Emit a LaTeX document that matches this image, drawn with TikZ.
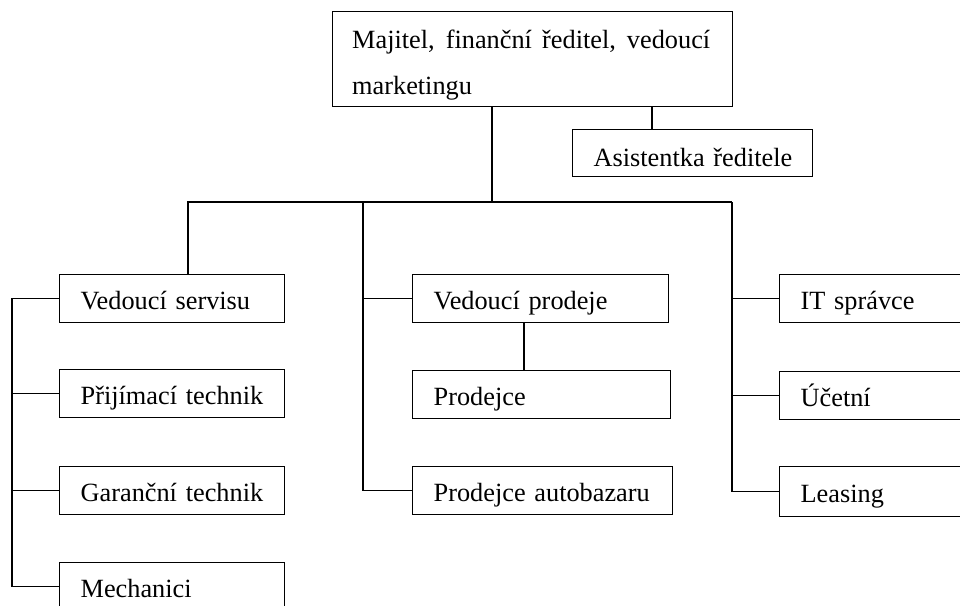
\documentclass[tikz,border=0pt]{standalone}
\usepackage{fontspec}
\setmainfont{Liberation Serif}
\begin{document}
\begin{tikzpicture}[x=1pt,y=-1pt,
  bx/.style={draw, line width=1.3pt, anchor=north west, inner xsep=21pt, inner ysep=0pt,
    text height=22pt, text depth=0pt, align=left, minimum height=48pt},
  ln/.style={line width=1.3pt},
  every node/.style={font=\fontsize{26.3}{30}\selectfont}]
\useasboundingbox (0,0) rectangle (960,605);
\clip (0,0) rectangle (960,605);
% top box
\node[draw, line width=1.3pt, anchor=north west, minimum width=400pt, minimum height=95pt, inner sep=0pt] (top) at (332,11) {};
\node[anchor=base west, inner sep=0pt] (t1) at (352,48) {\makebox[358pt][s]{Majitel, finanční ředitel, vedoucí}};
\node[anchor=base west, inner sep=0pt] (t2) at (352,94) {marketingu};
\node[bx, text width=198pt, minimum height=47pt, text height=26pt] (asst) at (572,129) {\mbox{Asistentka ředitele}};
% left column
\node[bx, text width=183pt] (vs) at (59,274) {Vedoucí servisu};
\node[bx, text width=183pt] (pt) at (59,369) {Přijímací technik};
\node[bx, text width=183pt] (gt) at (59,466) {Garanční technik};
\node[bx, text width=183pt] (mech) at (59,562) {Mechanici};
% middle column
\node[bx, text width=214pt] (vp) at (412,274) {Vedoucí prodeje};
\node[bx, text width=216pt] (pr) at (412,370) {Prodejce};
\node[bx, text width=218pt] (pa) at (412,466) {\mbox{Prodejce autobazaru}};
% right column
\node[bx, text width=240pt] (it) at (779,274) {IT správce};
\node[bx, text width=240pt] (uc) at (779,371) {Účetní};
\node[bx, text width=240pt, minimum height=50pt] (le) at (779,466) {Leasing};
% connectors
\coordinate (tc) at ([xshift=160pt]top.south west);
\coordinate (ac) at ([xshift=80pt]asst.north west);
\coordinate (lb) at (188,202);
\coordinate (mr) at (363,202);
\coordinate (rr) at (732,202);
\coordinate (lr) at (12,202);
\coordinate (pc) at ([xshift=112pt]vp.south west);
\draw[ln] (tc) -- (tc |- lb);
\draw[ln] (ac |- top.south) -- (ac);
\draw[ln] (lb |- vs.north) -- (lb) -- (rr);
\draw[ln] (vs.west) -| (lr |- mech.west) -- (mech.west);
\draw[ln] (pt.west) -- (pt.west -| lr);
\draw[ln] (gt.west) -- (gt.west -| lr);
\draw[ln] (mr) |- (pa.west);
\draw[ln] (vp.west) -- (vp.west -| mr);
\draw[ln] (pc) -- (pc |- pr.north);
\draw[ln] (rr) |- (le.west);
\draw[ln] (it.west) -- (it.west -| rr);
\draw[ln] (uc.west) -- (uc.west -| rr);
\end{tikzpicture}
\end{document}
